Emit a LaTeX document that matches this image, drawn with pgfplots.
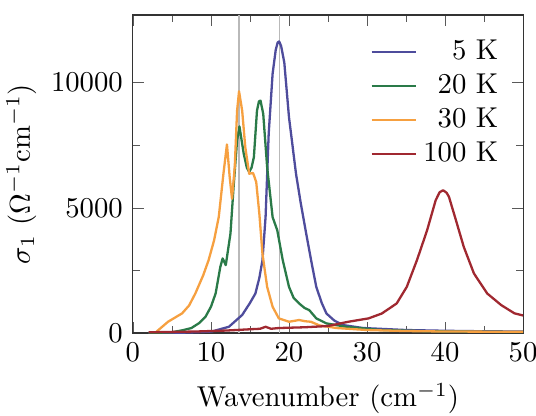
\documentclass[border=0pt]{standalone}
\usepackage{pgfplots}
\pgfplotsset{compat=1.18}

\definecolor{cfive}{RGB}{78,76,156}
\definecolor{ctwenty}{RGB}{42,122,72}
\definecolor{cthirty}{RGB}{246,160,64}
\definecolor{chundred}{RGB}{160,40,48}

\begin{document}
\begin{tikzpicture}
\begin{axis}[
  scale only axis,
  width=135.9pt, height=110.8pt,
  xmin=0, xmax=50, ymin=0, ymax=12700,
  xtick={0,10,...,50}, ytick={0,5000,10000},
  minor x tick num=1, minor y tick num=1,
  tick align=inside,
  major tick length=4pt, minor tick length=2.5pt,
  tick style={gray!70!black},
  axis line style={gray!40!black},
  scaled y ticks=false,
  yticklabel style={/pgf/number format/.cd,fixed,1000 sep={}},
  xlabel={Wavenumber (cm$^{-1}$)},
  ylabel={$\sigma_1$ ($\Omega^{-1}\mathrm{cm}^{-1}$)},
  xlabel style={at={(axis description cs:0.5,-0.232)}, anchor=base},
  ylabel style={at={(axis description cs:-0.285,0.5)}, anchor=center},
  legend style={draw=none, fill=none, at={(0.96,0.95)}, anchor=north east,
    cells={anchor=east}, row sep=-0.5pt, inner sep=1pt},
  legend image code/.code={\draw[#1] (0cm,0cm) -- (0.55cm,0cm);},
  every axis plot/.append style={line width=0.8pt, line join=round},
]
% reference lines at the two phonon positions
\addplot[gray!55, line width=0.5pt, forget plot] coordinates {(13.6,0) (13.6,12700)};
\addplot[gray!55, line width=0.5pt, forget plot] coordinates {(18.8,0) (18.8,12700)};

% 5 K
\addplot[cfive] coordinates {
(2,0) (6,10) (8,30) (10.1,60) (12.3,250) (14.0,720) (15.0,1200) (15.7,1580) (16.2,2200)
(16.6,2900) (17.0,4630) (17.4,7960) (17.9,10350) (18.3,11300) (18.55,11600) (18.75,11640)
(19.0,11450) (19.4,10800) (20.0,8620) (20.9,6360) (21.5,5200) (22.2,3980) (22.9,2800)
(23.5,1840) (24.2,1200) (24.8,780) (25.8,500) (26.9,320) (29.5,200) (35,120) (40,90)
(45,70) (50,60)
};
\addlegendentry{5 K}

% 20 K
\addplot[ctwenty] coordinates {
(2,0) (5.0,30) (6.5,120) (7.5,200) (8.5,400) (9.3,650) (10.0,1050) (10.6,1580) (11.2,2640)
(11.5,2980) (11.9,2710) (12.5,3970) (12.9,5830) (13.35,7690) (13.65,8250) (14.2,7160)
(14.6,6600) (14.9,6430) (15.2,6600) (15.5,7020) (15.9,8880) (16.15,9250) (16.35,9280)
(16.7,8750) (17.2,6630) (17.9,4630) (18.5,4100) (19.2,2910) (20.0,1845) (20.6,1400)
(21.3,1180) (22.0,1000) (22.6,915) (23.5,585) (24.8,385) (27.3,250) (31.7,120) (38,70)
(45,50) (50,40)
};
\addlegendentry{20 K}

% 30 K
\addplot[cthirty] coordinates {
(3.0,50) (4.5,450) (6.3,785) (7.2,1100) (8.0,1580) (9.0,2300) (9.7,2910) (10.4,3700)
(11.0,4630) (11.6,6360) (12.05,7530) (12.4,6230) (12.7,5360) (13.05,6630) (13.35,8880)
(13.6,9650) (14.0,8880) (14.4,7420) (14.9,6360) (15.4,6390) (15.8,6030) (16.2,4770)
(16.6,3170) (17.2,1845) (17.9,1050) (18.7,585) (20.0,450) (21.3,520) (22.1,470) (22.8,450)
(23.9,305) (26.1,200) (30,120) (35,80) (40,60) (45,55) (50,50)
};
\addlegendentry{30 K}

% 100 K
\addplot[chundred] coordinates {
(2,30) (8,60) (12,100) (15,150) (16.3,170) (17.0,250) (17.7,170) (18.7,200) (22,230)
(25,280) (27.6,450) (30.2,585) (31.9,780) (33.8,1180) (35.1,1845) (36.4,2910) (37.7,4100)
(38.8,5300) (39.3,5620) (39.75,5700) (40.2,5600) (40.5,5440) (41.4,4500) (42.4,3440)
(43.7,2380) (45.4,1580) (47.2,1115) (48.9,785) (50,700)
};
\addlegendentry{100 K}
\end{axis}
% page frame around the axis and its labels
\pgfresetboundingbox
\useasboundingbox ([shift={(-46.3pt,-28.6pt)}]current axis.south west)
  rectangle ([shift={(4.5pt,5.2pt)}]current axis.north east);
\end{tikzpicture}
\end{document}
